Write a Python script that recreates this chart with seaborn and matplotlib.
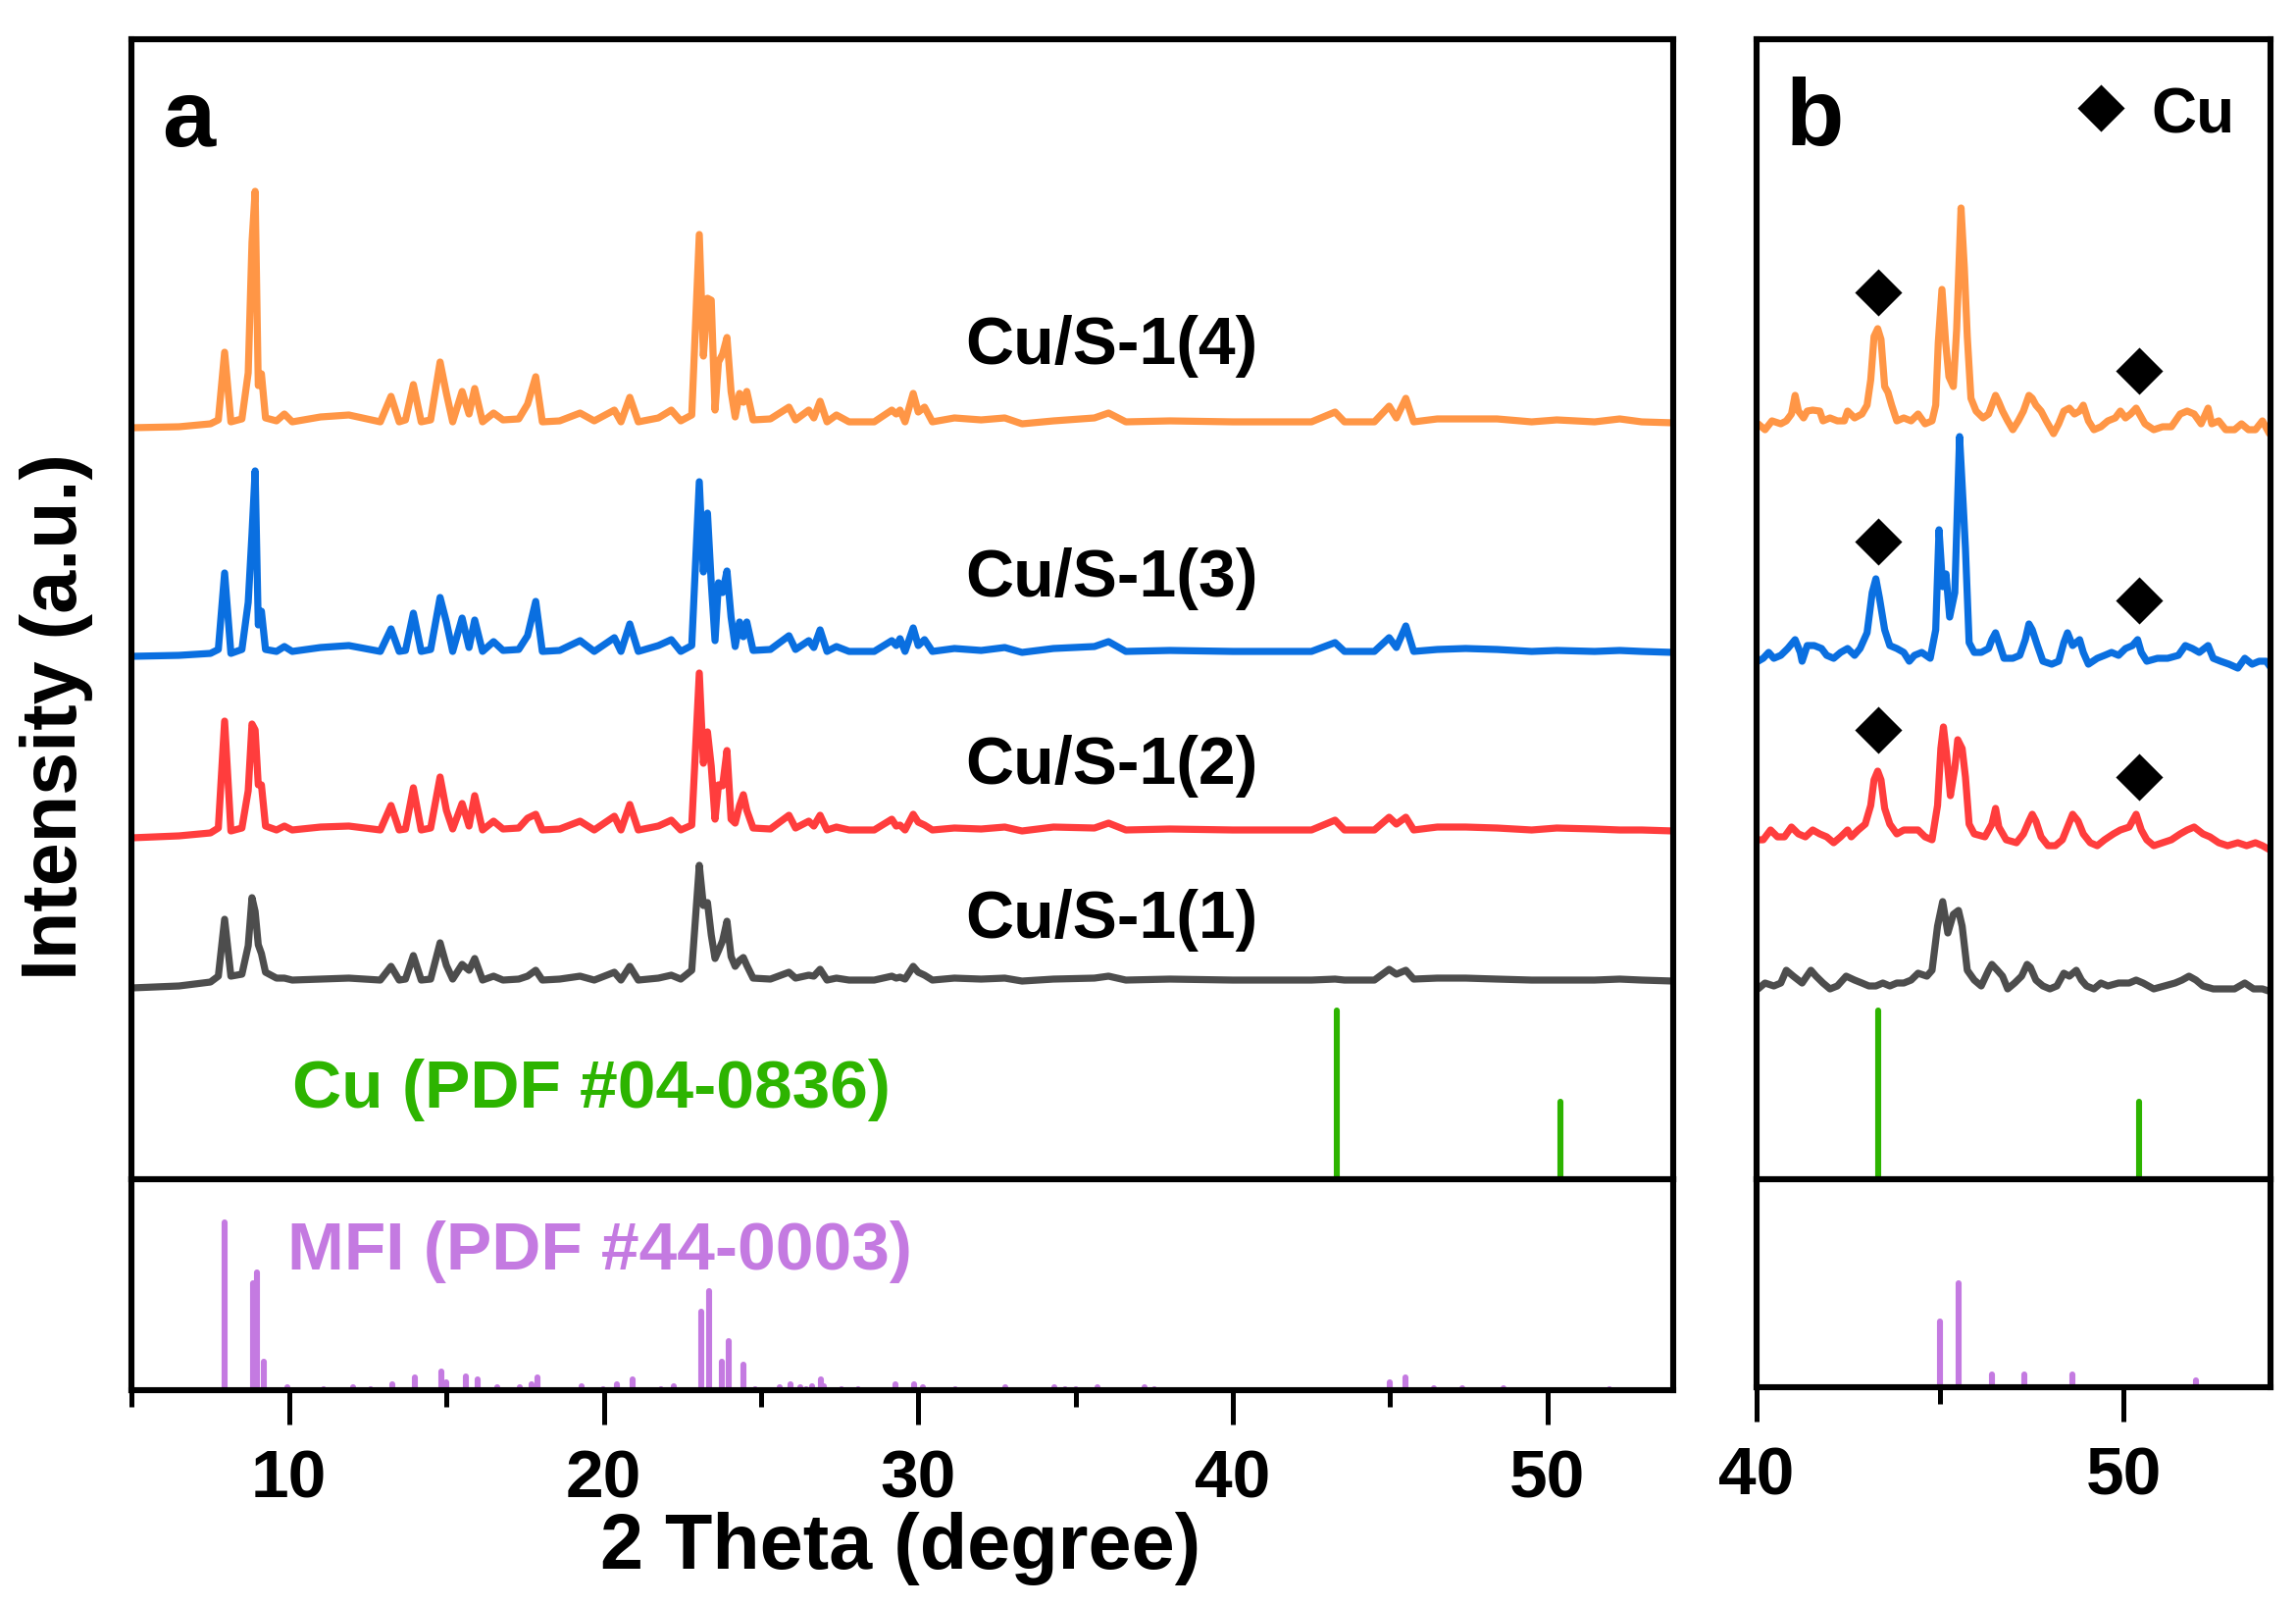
import pandas as pd
import matplotlib.pyplot as plt
from matplotlib.ticker import MultipleLocator
import seaborn as sns

sns.set_style("white")
plt.rcParams["font.family"] = ["Liberation Sans", "DejaVu Sans"]
plt.rcParams["font.weight"] = "bold"
plt.rcParams["axes.labelweight"] = "bold"
plt.rcParams["text.color"] = "black"
plt.rcParams["xtick.color"] = "black"
plt.rcParams["axes.labelcolor"] = "black"

# ---- data ----
samples = ["Cu/S-1(1)", "Cu/S-1(2)", "Cu/S-1(3)", "Cu/S-1(4)"]
colors = ["#4d4d4d", "#ff3d3d", "#0a6fe0", "#ff9646"]

# panel a: full scan (2 theta in degree, intensity in a.u.)
two_theta_a = [5.0, 6.5, 7.5, 7.75, 7.95, 8.15, 8.5, 8.7, 8.82, 8.92,
               9.02, 9.12, 9.25, 9.6, 9.85, 10.1, 11.0, 11.9, 12.9, 13.24,
               13.5, 13.7, 13.95, 14.2, 14.5, 14.8, 15.0, 15.2, 15.5, 15.72,
               15.9, 16.15, 16.5, 16.8, 17.3, 17.58, 17.84, 18.05, 18.6, 19.25,
               19.7, 20.34, 20.55, 20.83, 21.1, 21.74, 22.15, 22.45, 22.8, 23.04,
               23.17, 23.3, 23.42, 23.54, 23.65, 23.78, 23.92, 24.05, 24.18, 24.32,
               24.44, 24.55, 24.75, 25.3, 25.89, 26.1, 26.52, 26.68, 26.88, 27.1,
               27.4, 27.8, 28.6, 29.16, 29.3, 29.42, 29.58, 29.84, 30.0, 30.2,
               30.45, 31.15, 32.0, 32.75, 33.3, 34.3, 35.6, 36.05, 36.6, 38.0,
               40.0, 42.5, 43.25, 43.55, 44.5, 44.97, 45.2, 45.5, 45.75, 46.5,
               47.4, 48.4, 49.5, 50.3, 51.5, 52.3, 53.0, 54.0]

int_a_1 = [2, 4, 8, 14, 72, 14, 16, 45, 94, 80,
           46, 37, 18, 12, 12, 10, 11, 12, 10, 24,
           10, 11, 35, 10, 11, 48, 25, 11, 26, 20,
           32, 10, 14, 10, 11, 14, 20, 10, 11, 14,
           10, 18, 10, 24, 10, 12, 15, 11, 20, 127,
           86, 89, 56, 32, 40, 50, 70, 34, 24, 30,
           33, 25, 12, 11, 18, 12, 15, 14, 21, 10,
           12, 10, 10, 14, 12, 13, 11, 24, 18, 15,
           10, 12, 11, 12, 9, 11, 12, 14, 10, 11,
           10, 10, 11, 10, 10, 21, 16, 20, 11, 12,
           12, 11, 10, 10, 10, 11, 10, 9]

int_a_2 = [2, 4, 7, 12, 121, 9, 12, 50, 118, 112,
           56, 56, 14, 10, 14, 10, 13, 14, 10, 35,
           10, 11, 53, 10, 12, 64, 30, 11, 37, 14,
           45, 10, 19, 11, 12, 22, 26, 10, 11, 19,
           10, 24, 10, 36, 10, 14, 20, 10, 15, 170,
           78, 110, 75, 21, 56, 55, 91, 21, 17, 35,
           46, 30, 12, 11, 25, 12, 19, 14, 25, 10,
           13, 10, 10, 21, 14, 15, 10, 26, 18, 15,
           10, 12, 11, 13, 9, 13, 12, 17, 10, 11,
           10, 10, 20, 10, 10, 23, 16, 23, 10, 13,
           13, 12, 10, 12, 11, 10, 10, 9]

int_a_3 = [5, 6, 8, 12, 90, 8, 12, 60, 130, 194,
           37, 51, 12, 10, 15, 10, 14, 16, 10, 33,
           10, 11, 49, 10, 12, 65, 40, 10, 44, 14,
           42, 10, 20, 11, 12, 26, 61, 10, 11, 21,
           10, 24, 10, 38, 10, 16, 22, 10, 16, 183,
           91, 151, 80, 21, 80, 70, 92, 45, 15, 40,
           25, 40, 11, 12, 26, 12, 21, 14, 32, 10,
           15, 10, 10, 21, 16, 23, 10, 34, 16, 22,
           10, 13, 11, 14, 9, 13, 15, 20, 10, 11,
           10, 10, 19, 10, 10, 24, 14, 36, 10, 12,
           13, 12, 10, 11, 10, 11, 10, 9]

int_a_4 = [4, 5, 8, 12, 81, 10, 13, 60, 193, 245,
           47, 59, 14, 11, 18, 10, 15, 17, 10, 36,
           10, 12, 48, 10, 12, 71, 39, 10, 41, 18,
           44, 10, 19, 12, 13, 28, 56, 10, 11, 19,
           11, 22, 10, 35, 10, 14, 22, 11, 17, 201,
           77, 136, 134, 22, 71, 79, 96, 41, 15, 39,
           30, 41, 12, 13, 25, 12, 22, 14, 31, 10,
           17, 10, 10, 22, 18, 22, 10, 39, 20, 25,
           10, 14, 12, 14, 8, 11, 14, 19, 10, 11,
           10, 10, 20, 10, 10, 26, 14, 34, 10, 13,
           13, 13, 10, 12, 10, 13, 10, 9]

# panel b: magnified 40-54 degree region
theta_b_1 = [40.04, 40.23, 40.47, 40.66, 40.81, 41.0, 41.24, 41.48, 41.62, 41.81,
             42.0, 42.2, 42.44, 42.67, 42.87, 43.06, 43.25, 43.44, 43.63, 43.82,
             44.01, 44.21, 44.4, 44.64, 44.78, 44.93, 45.07, 45.21, 45.36, 45.5,
             45.6, 45.74, 45.93, 46.12, 46.32, 46.41, 46.56, 46.7, 46.84, 47.03,
             47.22, 47.37, 47.46, 47.61, 47.8, 47.99, 48.18, 48.37, 48.52, 48.71,
             48.85, 48.99, 49.19, 49.38, 49.57, 49.86, 50.15, 50.34, 50.53, 50.82,
             51.11, 51.4, 51.59, 51.78, 51.97, 52.16, 52.44, 52.73, 53.02, 53.3,
             53.54, 53.78, 54.02]
int_b_1 = [7, 13, 10, 13, 26, 20, 13, 26, 20, 13,
           7, 10, 20, 16, 13, 10, 10, 13, 10, 13,
           13, 16, 23, 20, 26, 71, 96, 64, 83, 87,
           71, 26, 16, 10, 26, 32, 26, 20, 7, 13,
           20, 32, 29, 16, 10, 7, 10, 23, 20, 26,
           16, 10, 7, 13, 10, 13, 13, 16, 13, 7,
           10, 13, 16, 20, 16, 10, 7, 7, 7, 13,
           7, 7, 4]

theta_b_2 = [40.04, 40.18, 40.38, 40.57, 40.76, 40.95, 41.14, 41.33, 41.53, 41.72,
             41.91, 42.1, 42.29, 42.48, 42.58, 42.77, 42.96, 43.11, 43.2, 43.3,
             43.39, 43.49, 43.63, 43.82, 44.01, 44.21, 44.4, 44.59, 44.78, 44.93,
             45.02, 45.09, 45.18, 45.28, 45.4, 45.48, 45.6, 45.69, 45.79, 45.93,
             46.22, 46.41, 46.51, 46.6, 46.8, 47.08, 47.27, 47.42, 47.51, 47.61,
             47.75, 47.94, 48.14, 48.33, 48.47, 48.61, 48.76, 48.9, 49.09, 49.28,
             49.48, 49.72, 49.91, 50.15, 50.34, 50.48, 50.63, 50.82, 51.06, 51.3,
             51.54, 51.73, 51.92, 52.16, 52.35, 52.59, 52.83, 53.11, 53.35, 53.59,
             53.78, 53.97]
int_b_2 = [10, 10, 20, 13, 13, 23, 16, 13, 20, 16,
           13, 7, 13, 20, 13, 20, 26, 45, 71, 80,
           71, 42, 26, 16, 20, 20, 20, 13, 10, 45,
           103, 125, 96, 55, 83, 112, 103, 74, 26, 16,
           13, 26, 42, 23, 10, 7, 16, 29, 36, 29,
           13, 4, 4, 10, 23, 36, 29, 16, 7, 4,
           10, 16, 20, 23, 36, 20, 10, 4, 7, 10,
           16, 20, 23, 16, 13, 7, 4, 7, 4, 7,
           4, 0]

theta_b_3 = [40.04, 40.18, 40.33, 40.47, 40.66, 40.85, 41.05, 41.19, 41.24, 41.38,
             41.57, 41.77, 41.91, 42.1, 42.29, 42.48, 42.67, 42.82, 43.01, 43.15,
             43.25, 43.35, 43.49, 43.63, 43.82, 44.01, 44.16, 44.3, 44.5, 44.73,
             44.88, 44.97, 45.07, 45.16, 45.26, 45.4, 45.53, 45.63, 45.69, 45.79,
             45.93, 46.12, 46.32, 46.41, 46.51, 46.6, 46.74, 46.98, 47.17, 47.32,
             47.42, 47.51, 47.65, 47.8, 48.04, 48.23, 48.37, 48.47, 48.61, 48.8,
             48.9, 49.04, 49.28, 49.48, 49.67, 49.86, 50.05, 50.24, 50.38, 50.48,
             50.63, 50.92, 51.2, 51.49, 51.68, 51.87, 52.06, 52.3, 52.44, 52.64,
             52.87, 53.11, 53.3, 53.5, 53.69, 53.88, 54.02]
int_b_3 = [7, 10, 16, 10, 13, 20, 29, 16, 7, 23,
           23, 20, 13, 10, 16, 20, 13, 20, 36, 77,
           91, 71, 39, 23, 20, 16, 7, 13, 16, 10,
           39, 141, 83, 96, 52, 77, 236, 166, 122, 26,
           16, 16, 20, 29, 36, 26, 10, 10, 13, 29,
           45, 39, 23, 7, 4, 7, 26, 36, 23, 29,
           16, 4, 10, 13, 16, 13, 20, 23, 29, 16,
           7, 10, 10, 13, 23, 20, 16, 23, 10, 7,
           4, 0, 10, 4, 7, 7, 0]

theta_b_4 = [40.04, 40.23, 40.42, 40.66, 40.81, 40.95, 41.05, 41.14, 41.28, 41.38,
             41.53, 41.72, 41.81, 42.0, 42.2, 42.39, 42.48, 42.67, 42.87, 43.01,
             43.11, 43.2, 43.3, 43.39, 43.49, 43.58, 43.68, 43.82, 44.01, 44.21,
             44.4, 44.59, 44.78, 44.88, 44.95, 45.05, 45.15, 45.24, 45.36, 45.45,
             45.57, 45.66, 45.74, 45.84, 45.98, 46.17, 46.32, 46.41, 46.51, 46.6,
             46.7, 46.84, 46.98, 47.13, 47.27, 47.42, 47.51, 47.61, 47.75, 47.89,
             48.09, 48.23, 48.37, 48.52, 48.66, 48.8, 48.9, 49.04, 49.19, 49.38,
             49.57, 49.77, 49.91, 50.05, 50.19, 50.34, 50.43, 50.58, 50.82, 51.06,
             51.3, 51.54, 51.73, 51.92, 52.11, 52.3, 52.4, 52.59, 52.78, 53.02,
             53.21, 53.4, 53.59, 53.78, 53.97]
int_b_4 = [10, 4, 13, 10, 13, 20, 39, 23, 16, 23,
           24, 23, 13, 16, 13, 13, 23, 16, 20, 29,
           55, 99, 107, 96, 48, 42, 29, 13, 16, 13,
           20, 10, 13, 29, 93, 147, 93, 58, 48, 106,
           230, 169, 99, 36, 23, 16, 20, 29, 39, 32,
           23, 13, 4, 13, 23, 39, 36, 29, 23, 13,
           0, 10, 23, 26, 20, 23, 29, 13, 4, 7,
           13, 16, 23, 16, 20, 26, 20, 10, 4, 7,
           7, 20, 23, 20, 10, 26, 10, 13, 4, 4,
           10, 4, 4, 13, 0]

# reference patterns
cu_theta = [43.30, 50.43]
cu_int = [100, 46]
mfi_theta = [7.96, 8.84, 8.99, 9.19, 9.95, 11.1, 12.02, 12.6, 13.29, 14.0,
             14.83, 14.99, 15.61, 15.98, 16.61, 17.33, 17.71, 17.88, 19.3, 19.97,
             20.41, 20.92, 21.81, 22.22, 23.11, 23.34, 23.75, 23.99, 24.45, 24.82,
             25.61, 25.93, 26.25, 26.44, 26.61, 26.9, 27.01, 27.55, 28.08, 29.28,
             29.88, 30.16, 31.18, 32.77, 34.34, 34.67, 35.0, 35.7, 37.19, 37.5,
             45.0, 45.5, 46.4, 47.3, 48.6, 51.96]
mfi_int = [100, 64, 70, 17, 1.8, 0.6, 1.8, 0.6, 3.5, 7.6,
           11, 4.7, 8.2, 6.4, 1.8, 1.8, 3.5, 7.6, 2.3, 0.6,
           3.5, 6.4, 0.6, 2.3, 47, 59, 17, 29, 15, 0.6,
           1.8, 3.5, 1.8, 0.6, 2.3, 6.4, 2.3, 0.6, 0.6, 3.5,
           3.5, 1.8, 0.6, 1.8, 1.8, 0.6, 0.6, 1.8, 1.8, 0.6,
           4.8, 7.6, 0.9, 0.9, 0.9, 0.5]

# ---- layout ----
W, H = 2341, 1637
GREEN = "#2db400"
PURPLE = "#c47ae1"
fig = plt.figure(figsize=(W / 200, H / 200), dpi=200)
ax_a = fig.add_axes([134.4 / W, 1 - 1202 / H, (1706 - 134.4) / W, (1202 - 40) / H])
ax_a_ref = fig.add_axes([134.4 / W, 1 - 1417 / H, (1706 - 134.4) / W, (1417 - 1202) / H])
ax_b = fig.add_axes([1791 / W, 1 - 1202 / H, (2315 - 1791) / W, (1202 - 40) / H])
ax_b_ref = fig.add_axes([1791 / W, 1 - 1414 / H, (2315 - 1791) / W, (1414 - 1202) / H])

# panel a traces, stacked
offsets_a = [193, 346, 528, 762]
for ints, off, c in zip([int_a_1, int_a_2, int_a_3, int_a_4], offsets_a, colors):
    df = pd.DataFrame({"two_theta": two_theta_a, "intensity": [v + off for v in ints]})
    sns.lineplot(data=df, x="two_theta", y="intensity", ax=ax_a, color=c,
                 linewidth=2.6, estimator=None, sort=False)

# panel b traces
offsets_b = [187, 336, 521, 760]
traces_b = [(theta_b_1, int_b_1), (theta_b_2, int_b_2), (theta_b_3, int_b_3), (theta_b_4, int_b_4)]
for (th, ints), off, c in zip(traces_b, offsets_b, colors):
    df = pd.DataFrame({"two_theta": th, "intensity": [v + off for v in ints]})
    sns.lineplot(data=df, x="two_theta", y="intensity", ax=ax_b, color=c,
                 linewidth=2.6, estimator=None, sort=False)

# Cu reference sticks (upper axes) and MFI sticks (lower axes)
cu_scale = 1.72
for ax in (ax_a, ax_b):
    ax.vlines(cu_theta, 0, [v * cu_scale for v in cu_int], colors=GREEN,
              linewidth=2.2, capstyle="round")
for ax in (ax_a_ref, ax_b_ref):
    ax.vlines(mfi_theta, 0, mfi_int, colors=PURPLE, linewidth=2.2, capstyle="round")

# Cu markers in panel b
marker_levels = [[458, 410], [650, 590], [904, 824]]
for lev in marker_levels:
    sns.scatterplot(x=cu_theta, y=lev, ax=ax_b, marker="D", s=150, color="black",
                    linewidth=0, legend=False)
sns.scatterplot(x=[49.38], y=[1092], ax=ax_b, marker="D", s=150, color="black",
                linewidth=0, legend=False)
ax_b.text(50.75, 1067, "Cu", fontsize=23, va="baseline", ha="left")

# limits
ax_a.set_xlim(5, 54)
ax_a_ref.set_xlim(5, 54)
ax_b.set_xlim(40, 54)
ax_b_ref.set_xlim(40, 54)
for ax in (ax_a, ax_b):
    ax.set_ylim(0, 1162)
ax_a_ref.set_ylim(0, 215 / 1.71)
ax_b_ref.set_ylim(0, 212 / 14)

# texts
label_base = [245.5, 403, 594.5, 831]
for name, yb in zip(samples, label_base):
    ax_a.text(31.5, yb, name, fontsize=24.5, va="baseline", ha="left")
ax_a.text(10.09, 73, "Cu (PDF #04-0836)", fontsize=25, color=GREEN, va="baseline", ha="left")
ax_a_ref.text(9.96, 71.9, "MFI (PDF #44-0003)", fontsize=25, color=PURPLE, va="baseline", ha="left")
ax_a.text(5.96, 1053, "a", fontsize=35, va="baseline", ha="left")
ax_b.text(40.78, 1054, "b", fontsize=35, va="baseline", ha="left")

# axes styling
for ax in (ax_a, ax_a_ref, ax_b, ax_b_ref):
    ax.set_xlabel("")
    ax.set_ylabel("")
    ax.set_yticks([])
    for sp in ax.spines.values():
        sp.set_visible(True)
        sp.set_linewidth(2.2)
        sp.set_color("black")
for ax in (ax_a, ax_b):
    ax.set_xticks([])
for ax in (ax_a_ref, ax_b_ref):
    ax.xaxis.set_major_locator(MultipleLocator(10))
    ax.xaxis.set_minor_locator(MultipleLocator(5))
    ax.tick_params(axis="x", which="major", bottom=True, direction="out",
                   length=12.5, width=1.8, labelsize=25, pad=9, color="black",
                   labelcolor="black")
    ax.tick_params(axis="x", which="minor", bottom=True, direction="out",
                   length=6, width=1.8, color="black")

fig.text(918 / W, 1 - 1578 / H, "2 Theta (degree)", ha="center", va="center", fontsize=28.5)
fig.text(58 / W, 1 - 730 / H, "Intensity (a.u.)", rotation=90, ha="center", va="center",
         fontsize=28.5)

fig.savefig("out.png", dpi=200)
